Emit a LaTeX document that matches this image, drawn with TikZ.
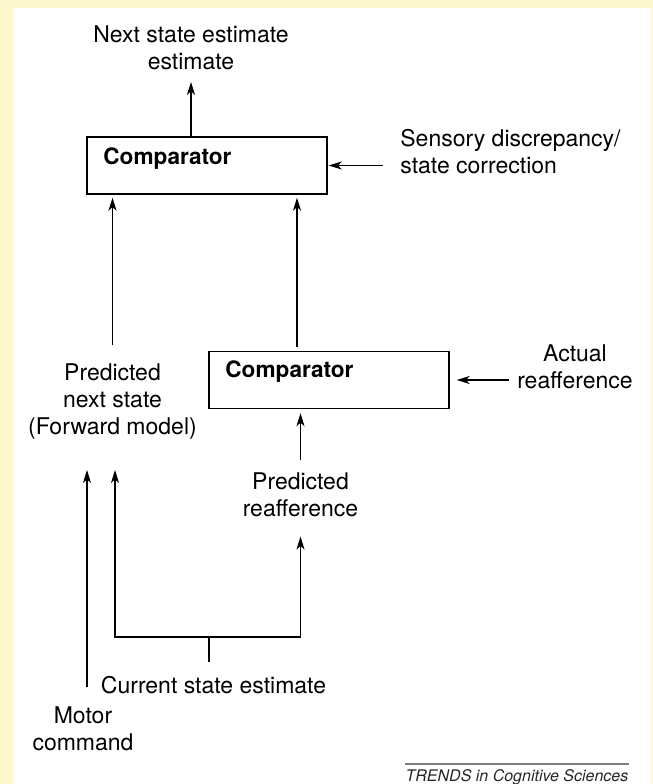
\documentclass[tikz,border=0pt]{standalone}
\usepackage{fontspec}
\setmainfont{TeX Gyre Heros}
\usepackage{xcolor}
\usepackage{tikz}
\usetikzlibrary{
    positioning,
    arrows.meta,
    calc
}
\definecolor{paper}{RGB}{252,247,205}
\definecolor{rulegray}{RGB}{125,125,125}

\tikzset{
    lbl/.style={align=center, inner sep=0pt, font=\fontsize{11.5}{13.5}\selectfont},
    lbll/.style={lbl, align=left},
    cbox/.style={draw, line width=0.7pt, minimum width=120pt, minimum height=28.5pt, inner sep=0pt},
    ctext/.style={anchor=west, inner sep=0pt, font=\fontsize{11.3}{13.5}\selectfont\bfseries},
    arr/.style={-{Stealth[length=6.5pt, width=4pt, inset=1.8pt]}, line width=0.6pt}
}

\begin{document}
\begin{tikzpicture}[x=0.5pt, y=-0.5pt]
    \fill[paper] (0,0) rectangle (653,784);
    \fill[white] (13,7.5) rectangle (651,784);
    \useasboundingbox (0,0) rectangle (653,784);

    % 比較器 (上と下)
    \node[cbox] (cmpA) at (207,165.5) {};
    \node[ctext] (cmpAtxt) at (103,159) {Comparator};
    \node[cbox] (cmpB) at (329,380) {};
    \node[ctext] (cmpBtxt) at (225,372) {Comparator};

    \node[lbl] (nxt) at (191,47.5) {Next state estimate\\estimate};
    \node[lbll, anchor=west] (sns) at (400,151.5) {Sensory discrepancy/\\state correction};
    \node[lbl] (prn) at (112.5,401.5) {Predicted\\next state\\(Forward model)};
    \node[lbl] (act) at (575,366.5) {Actual\\reafference};
    \node[lbl] (prf) at (300.5,495) {Predicted\\reafference};
    \node[lbl] (cse) at (213.5,685) {Current state estimate};
    \node[lbl] (mot) at (83,729) {Motor\\command};
    \node[inner sep=0pt, font=\fontsize{8}{9}\selectfont\itshape, text=black!85] (trd) at (517,777) {TRENDS in Cognitive Sciences};

    \coordinate (fwdA) at (87,470);
    \coordinate (fwdB) at (115,470);
    \coordinate (rup) at (297,347);
    \coordinate (brk) at (209,637);

    \draw[arr, shorten >=6pt] (nxt.south |- cmpA.north) -- (nxt.south);
    \draw[arr, shorten <=8.5pt, shorten >=0.5pt] (sns.west |- cmpA.east) -- (cmpA.east);
    \draw[arr, shorten >=1.5pt] ([yshift=9pt]prn.north) -- (prn.north |- cmpA.south);
    \draw[arr, shorten >=1.5pt] (rup) -- (rup |- cmpA.south);
    \draw[arr, shorten <=4pt, shorten >=3.5pt] (act.west |- cmpB.east) -- (cmpB.east);
    \draw[arr, shorten >=2pt] ([yshift=6.5pt]prf.north) -- (prf.north |- cmpB.south);

    % 現在の状態から二つの予測へ
    \draw[arr] (brk) -| (fwdB);
    \draw[arr, shorten >=9.5pt] (brk) -| (prf.south);
    \draw[line width=0.6pt, shorten >=7pt] (brk) -- (brk |- cse.north);
    \draw[arr, shorten <=10pt] (mot.north -| fwdA) -- (fwdA);

    \draw[rulegray, line width=0.7pt] ([yshift=2.5pt]trd.north west) -- ([yshift=2.5pt]trd.north east);
\end{tikzpicture}
\end{document}
